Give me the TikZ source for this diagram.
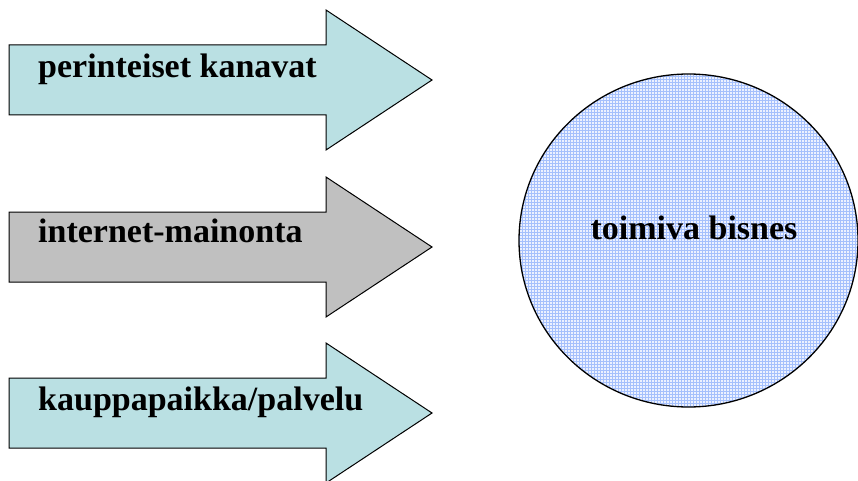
\documentclass[tikz,border=0pt]{standalone}
\usepackage{fontspec}
\setmainfont{Liberation Serif}
\usetikzlibrary{positioning,patterns,shapes.geometric}
\definecolor{arrowcyan}{RGB}{186,224,227}
\definecolor{arrowgray}{RGB}{192,192,192}
\definecolor{gridblue}{RGB}{165,192,252}
\definecolor{paleblue}{RGB}{236,241,255}

\begin{document}
\begin{tikzpicture}[x=1pt,y=-1pt,line join=miter]
  \tikzstyle{lbl}=[anchor=base west,inner sep=0pt,font=\bfseries\fontsize{34}{38}\selectfont]
  \tikzset{
    fatarrow/.pic={
      \draw[line width=1pt,fill=\arrowfill] (0,-35) -- (317,-35) -- (317,-70)
        -- (423,0) -- (317,70) -- (317,35) -- (0,35) -- cycle;
    }
  }
  \useasboundingbox (0,0) rectangle (858,481);

  % three arrows pointing at the circle
  \def\arrowfill{arrowcyan}
  \pic at (9,80) {fatarrow};
  \def\arrowfill{arrowgray}
  \pic at (9,247) {fatarrow};
  \def\arrowfill{arrowcyan}
  \pic at (9,413) {fatarrow};

  \coordinate (a1) at (38,78);
  \coordinate (a2) at (38,242.5);
  \coordinate (a3) at (38,410);
  \node[lbl] (trad) at (a1) {perinteiset kanavat};
  \node[lbl] (ads)  at (a2) {internet-mainonta};
  \node[lbl] (shop) at (a3) {kauppapaikka/palvelu};

  \node[ellipse,draw,line width=1.3pt,minimum width=339pt,minimum height=333pt,
        preaction={fill=paleblue},pattern=grid,pattern color=gridblue]
        (biz) at (688.5,240.5) {};
  \node[anchor=base,inner sep=0pt,font=\bfseries\fontsize{34}{38}\selectfont]
        (bizlbl) at (694,239) {toimiva bisnes};
\end{tikzpicture}
\end{document}
